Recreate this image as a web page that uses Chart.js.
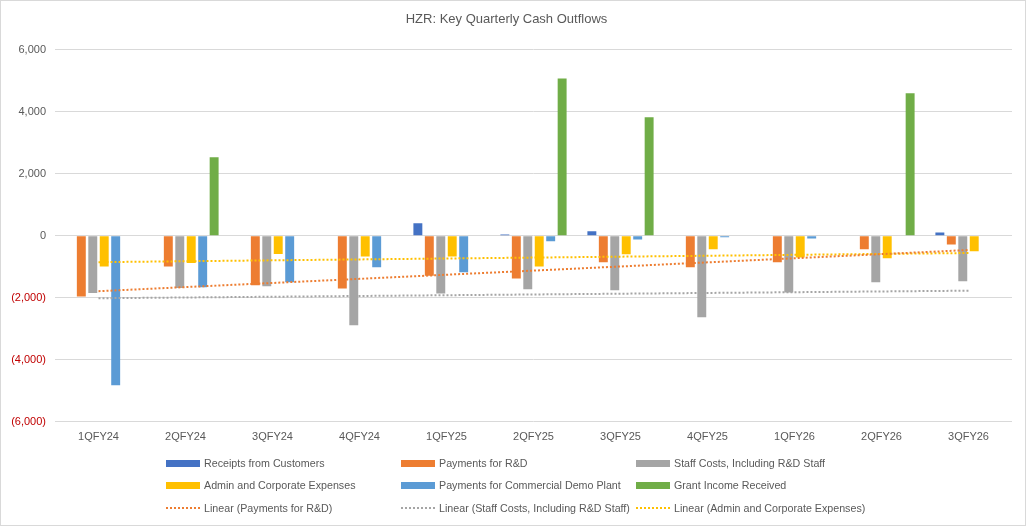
<!DOCTYPE html>
<html>
<head>
<meta charset="utf-8">
<script src="https://cdn.jsdelivr.net/npm/chart.js@4.4.0/dist/chart.umd.min.js"></script>
<style>
  body { margin: 0; background: #fff; }
  #wrap { position: relative; width: 1026px; height: 526px; border: 1px solid #d9d9d9; box-sizing: border-box; }
  #legend { position: absolute; left: 0; top: 0; width: 100%; height: 100%; pointer-events: none;
            font-family: "Liberation Sans", Arial, sans-serif; font-size: 10.7px; color: #595959; }
  .item { position: absolute; display: flex; align-items: center; white-space: nowrap; height: 14px; }
  .box { width: 34px; height: 7px; margin-right: 4px; }
  .dots { width: 34px; height: 0; border-top: 2px dotted; margin-right: 4px; }
</style>
</head>
<body>
<div id="wrap">
  <canvas id="cashChart"></canvas>
  <div id="legend"></div>
</div>
<script>
// Quarters and values (A$ thousands)
var quarters = ['1QFY24', '2QFY24', '3QFY24', '4QFY24', '1QFY25', '2QFY25', '3QFY25', '4QFY25', '1QFY26', '2QFY26', '3QFY26'];
var receipts = [null, null, null, null, 400, 40, 140, null, null, null, 100];
var rndPayments = [-1960, -990, -1600, -1700, -1290, -1380, -860, -1020, -860, -440, -280];
var staffCosts = [-1850, -1690, -1630, -2890, -1860, -1730, -1760, -2630, -1830, -1500, -1470];
var adminCosts = [-990, -880, -590, -670, -670, -990, -600, -440, -700, -730, -500];
var demoPlant = [-4820, -1660, -1500, -1020, -1180, -180, -120, -50, -90, null, null];
var grantIncome = [null, 2530, null, null, null, 5070, 3820, null, null, 4590, null];
var yTicks = [-6000, -4000, -2000, 0, 2000, 4000, 6000];

// least squares trend over the category index, like Excel's linear trendline
function linearTrend(values) {
  var n = values.length, sx = 0, sy = 0, sxx = 0, sxy = 0;
  values.forEach(function(v, i) {
    var x = i + 1;
    sx += x; sy += v; sxx += x * x; sxy += x * v;
  });
  var slope = (n * sxy - sx * sy) / (n * sxx - sx * sx);
  var icpt = (sy - slope * sx) / n;
  return values.map(function(v, i) { return icpt + slope * (i + 1); });
}

function fmt(v) {
  var s = Math.abs(v).toLocaleString('en-US');
  return v < 0 ? '(' + s + ')' : s;
}

function bar(label, data, color) {
  return { type: 'bar', label: label, data: data, backgroundColor: color, order: 2,
           barPercentage: 0.78, categoryPercentage: 0.79 };
}
function trend(label, data, color) {
  return { type: 'line', label: label, data: linearTrend(data), borderColor: color, borderWidth: 2,
           borderDash: [2, 2], pointRadius: 0, fill: false, order: 1 };
}

var datasets = [
  bar('Receipts from Customers', receipts, '#4472C4'),
  bar('Payments for R&D', rndPayments, '#ED7D31'),
  bar('Staff Costs, Including R&D Staff', staffCosts, '#A5A5A5'),
  bar('Admin and Corporate Expenses', adminCosts, '#FFC000'),
  bar('Payments for Commercial Demo Plant', demoPlant, '#5B9BD5'),
  bar('Grant Income Received', grantIncome, '#70AD47'),
  trend('Linear (Payments for R&D)', rndPayments, '#ED7D31'),
  trend('Linear (Staff Costs, Including R&D Staff)', staffCosts, '#A5A5A5'),
  trend('Linear (Admin and Corporate Expenses)', adminCosts, '#FFC000')
];

Chart.defaults.font.family = '"Liberation Sans", Arial, sans-serif';
Chart.defaults.color = '#595959';

var cashChart = new Chart(document.getElementById('cashChart'), {
  type: 'bar',
  data: { labels: quarters, datasets: datasets },
  options: {
    responsive: true,
    maintainAspectRatio: false,
    animation: false,
    layout: { padding: { left: 0, right: 13, bottom: 80 } },
    plugins: {
      legend: { display: false },
      tooltip: { enabled: false },
      title: {
        display: true,
        text: 'HZR: Key Quarterly Cash Outflows',
        color: '#595959',
        font: { size: 13, weight: 'normal' },
        padding: { top: 11, bottom: 22 }
      }
    },
    scales: {
      x: {
        grid: { display: false },
        border: { display: false },
        ticks: { padding: 1, font: { size: 11 }, color: '#595959' }
      },
      y: {
        min: -6000,
        max: 6000,
        afterBuildTicks: function(scale) {
          scale.ticks = yTicks.map(function(v) { return { value: v }; });
        },
        afterFit: function(scale) { scale.width = 54; },
        grid: { color: '#d9d9d9', drawTicks: false },
        border: { display: false },
        ticks: {
          padding: 9,
          font: { size: 11 },
          color: function(ctx) { return ctx.tick.value < 0 ? '#C00000' : '#595959'; },
          callback: function(v) { return fmt(v); }
        }
      }
    }
  }
});

// legend laid out in three columns as in the original
var legendEl = document.getElementById('legend');
var colX = [165, 400, 635];
var rowY = [455, 477, 500];
cashChart.data.datasets.forEach(function(ds, i) {
  var item = document.createElement('div');
  item.className = 'item';
  item.style.left = colX[i % 3] + 'px';
  item.style.top = rowY[Math.floor(i / 3)] + 'px';
  var mark = document.createElement('span');
  if (ds.type === 'line') {
    mark.className = 'dots';
    mark.style.borderTopColor = ds.borderColor;
  } else {
    mark.className = 'box';
    mark.style.background = ds.backgroundColor;
  }
  var txt = document.createElement('span');
  txt.textContent = ds.label;
  item.appendChild(mark);
  item.appendChild(txt);
  legendEl.appendChild(item);
});
</script>
</body>
</html>
